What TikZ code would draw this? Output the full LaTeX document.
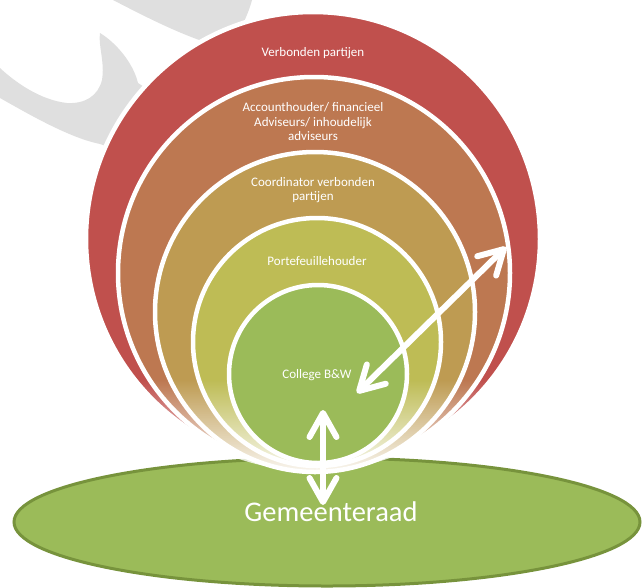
\documentclass[tikz,border=0pt]{standalone}
\usepackage{fontspec}
\setmainfont{Carlito}
\usepackage{tikz}
\usetikzlibrary{arrows.meta, fadings}

\definecolor{ringRed}{HTML}{C0504D}
\definecolor{ringOrange}{HTML}{BD7851}
\definecolor{ringTan}{HTML}{BE9B52}
\definecolor{ringYellow}{HTML}{BEBC55}
\definecolor{ringGreen}{HTML}{9BBB59}
\definecolor{raadBorder}{HTML}{77933C}
\definecolor{markGray}{HTML}{DFDFDF}

\tikzfading[name=fadedown, top color=transparent!100, bottom color=transparent!0]

\tikzset{
  ring/.style={draw=white, line width=4.5pt},
  ringtext/.style={text=white, align=center, font=\fontsize{13}{14.5}\selectfont},
  link/.style={draw=white, line width=6pt,
    arrows={Straight Barb[length=24pt,width=27pt,round]-Straight Barb[length=24pt,width=27pt,round]}}
}

\begin{document}
\begin{tikzpicture}[x=1pt, y=-1pt]
\useasboundingbox (0,0) rectangle (642,587);

% watermark
\fill[markGray] (113,0) .. controls (140,14) and (175,32) .. (205,42) -- (240,30)
  .. controls (246,18) and (250,8) .. (252,0) -- cycle;
\fill[markGray] (0,68) .. controls (15,82) and (40,100) .. (67,103)
  .. controls (85,104) and (98,96) .. (102,80)
  .. controls (105,62) and (98,45) .. (100,33)
  .. controls (115,42) and (133,62) .. (138,83) -- (152,92) -- (122,152) -- (100,144)
  .. controls (70,138) and (30,115) .. (0,98) -- cycle;

% Gemeenteraad
\draw[fill=ringGreen, draw=raadBorder, line width=3pt] (327,522) ellipse [x radius=313, y radius=64];
\node[text=white, font=\fontsize{28.5}{30}\selectfont] (gemeenteraad) at (331,512) {Gemeenteraad};

% rings
\fill[ring, fill=ringRed] (313,239) circle [radius=227];
\fill[ring, fill=ringOrange] (314,273) circle [radius=196];
\fill[ring, fill=ringTan] (315,312) circle [radius=160];
\fill[ring, fill=ringYellow] (317,342) circle [radius=124];

% fade at the bottom
\begin{scope}
\clip (313,239) circle [radius=232];
\fill[white, path fading=fadedown] (70,380) rectangle (560,480);
\end{scope}

\fill[ring, fill=ringGreen] (318,374) circle [radius=89];

% texts
\node[ringtext] (verbonden) at (313,53) {Verbonden partijen};
\node[ringtext] (account) at (313,122) {Accounthouder/ financieel\\Adviseurs/ inhoudelijk\\adviseurs};
\node[ringtext] (coordinator) at (313,190) {Coordinator verbonden\\partijen};
\node[ringtext] (portefeuille) at (317,261) {Portefeuillehouder};
\node[ringtext] (college) at (317,375) {College B\&W};

% arrows
\coordinate (collegeTip) at (357,393);
\coordinate (verbondenTip) at (506,247);
\coordinate (collegeUp) at (323,410);
\coordinate (raadDown) at (323,505);
\draw[link] (collegeTip) -- (verbondenTip);
\draw[link] (raadDown) -- (collegeUp);
\end{tikzpicture}
\end{document}
